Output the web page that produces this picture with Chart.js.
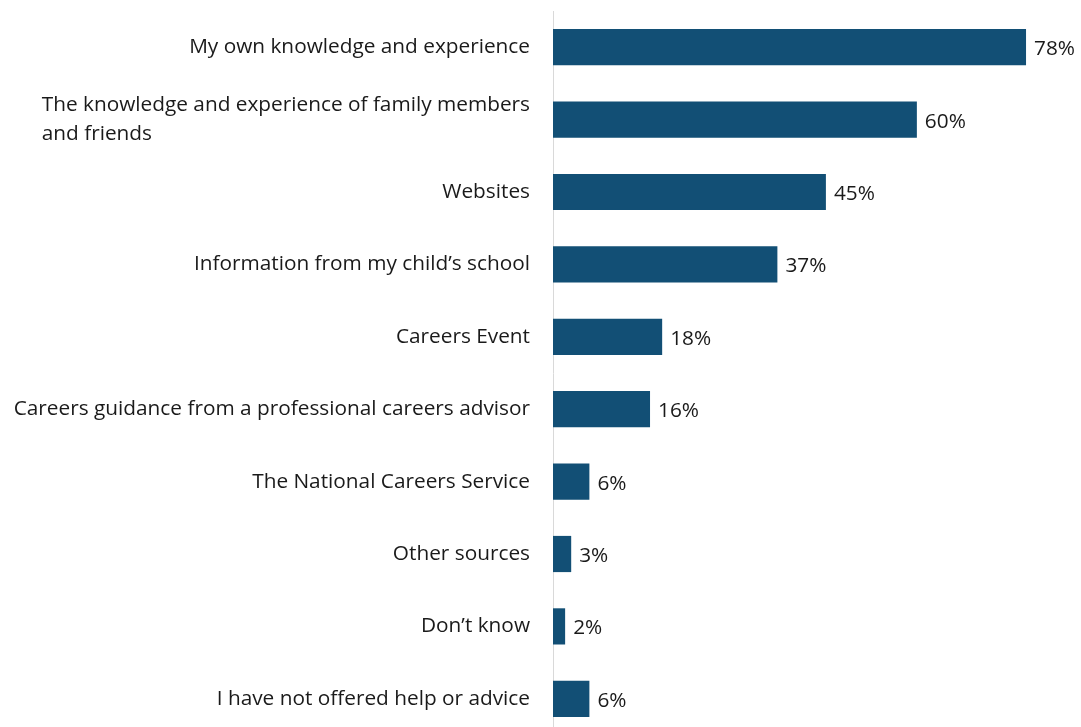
<!DOCTYPE html>
<html>
<head>
<meta charset="utf-8">
<script src="https://cdn.jsdelivr.net/npm/chart.js@4/dist/chart.umd.min.js"></script>
<style>
  html, body { margin: 0; padding: 0; background: #fff; overflow: hidden; }
  #wrap { width: 1081px; height: 741px; position: relative; }
</style>
</head>
<body>
<div id="wrap"><canvas id="myChart"></canvas></div>
<script>
// data
var categories = [
    'My own knowledge and experience',
    ['The knowledge and experience of family members', 'and friends'],
    'Websites',
    'Information from my child\u2019s school',
    'Careers Event',
    'Careers guidance from a professional careers advisor',
    'The National Careers Service',
    'Other sources',
    'Don\u2019t know',
    'I have not offered help or advice'
];
var shares = [78, 60, 45, 37, 18, 16, 6, 3, 2, 6];

var FONT = '"Open Sans", "Noto Sans", sans-serif';
var FONT_SIZE = 20.8;
var TEXT = '#1a1a1a';

// category labels: block right-aligned to the axis, lines left-aligned inside it
var catLabels = {
    id: 'catLabels',
    afterDraw: function(chart) {
        var ctx = chart.ctx;
        var y = chart.scales.y;
        var right = chart.chartArea.left - 23;
        ctx.save();
        ctx.font = FONT_SIZE + 'px ' + FONT;
        ctx.fillStyle = TEXT;
        ctx.textBaseline = 'middle';
        ctx.textAlign = 'left';
        categories.forEach(function(c, i) {
            var lines = Array.isArray(c) ? c : [c];
            var w = 0;
            lines.forEach(function(l) { w = Math.max(w, ctx.measureText(l).width); });
            var cy = y.getPixelForValue(i);
            var lh = 29;
            var top = cy - (lines.length - 1) * lh / 2;
            lines.forEach(function(l, k) {
                ctx.fillText(l, right - w, top + k * lh);
            });
        });
        ctx.restore();
    }
};

// value labels at the end of each bar
var valueLabels = {
    id: 'valueLabels',
    afterDatasetsDraw: function(chart) {
        var ctx = chart.ctx;
        var meta = chart.getDatasetMeta(0);
        ctx.save();
        ctx.font = FONT_SIZE + 'px ' + FONT;
        ctx.fillStyle = TEXT;
        ctx.textBaseline = 'middle';
        ctx.textAlign = 'left';
        meta.data.forEach(function(bar, i) {
            ctx.fillText(shares[i] + '%', bar.x + 8, bar.y + 2);
        });
        ctx.restore();
    }
};

var ctx = document.getElementById('myChart').getContext('2d');
var myChart = new Chart(ctx, {
    type: 'bar',
    data: {
        labels: categories.map(function(c) { return Array.isArray(c) ? c.join(' ') : c; }),
        datasets: [{
            data: shares,
            backgroundColor: '#124f75',
            borderWidth: 0,
            barPercentage: 0.5,
            categoryPercentage: 1
        }]
    },
    options: {
        indexAxis: 'y',
        responsive: true,
        maintainAspectRatio: false,
        animation: false,
        layout: { padding: { left: 545, right: 11, top: 11, bottom: 6 } },
        plugins: {
            legend: { display: false },
            tooltip: { enabled: false }
        },
        scales: {
            x: {
                min: 0,
                max: 85.25,
                display: false
            },
            y: {
                ticks: { display: false },
                grid: { display: false },
                border: { display: true, color: '#d9d9d9', width: 1 }
            }
        }
    },
    plugins: [catLabels, valueLabels]
});
</script>
</body>
</html>
